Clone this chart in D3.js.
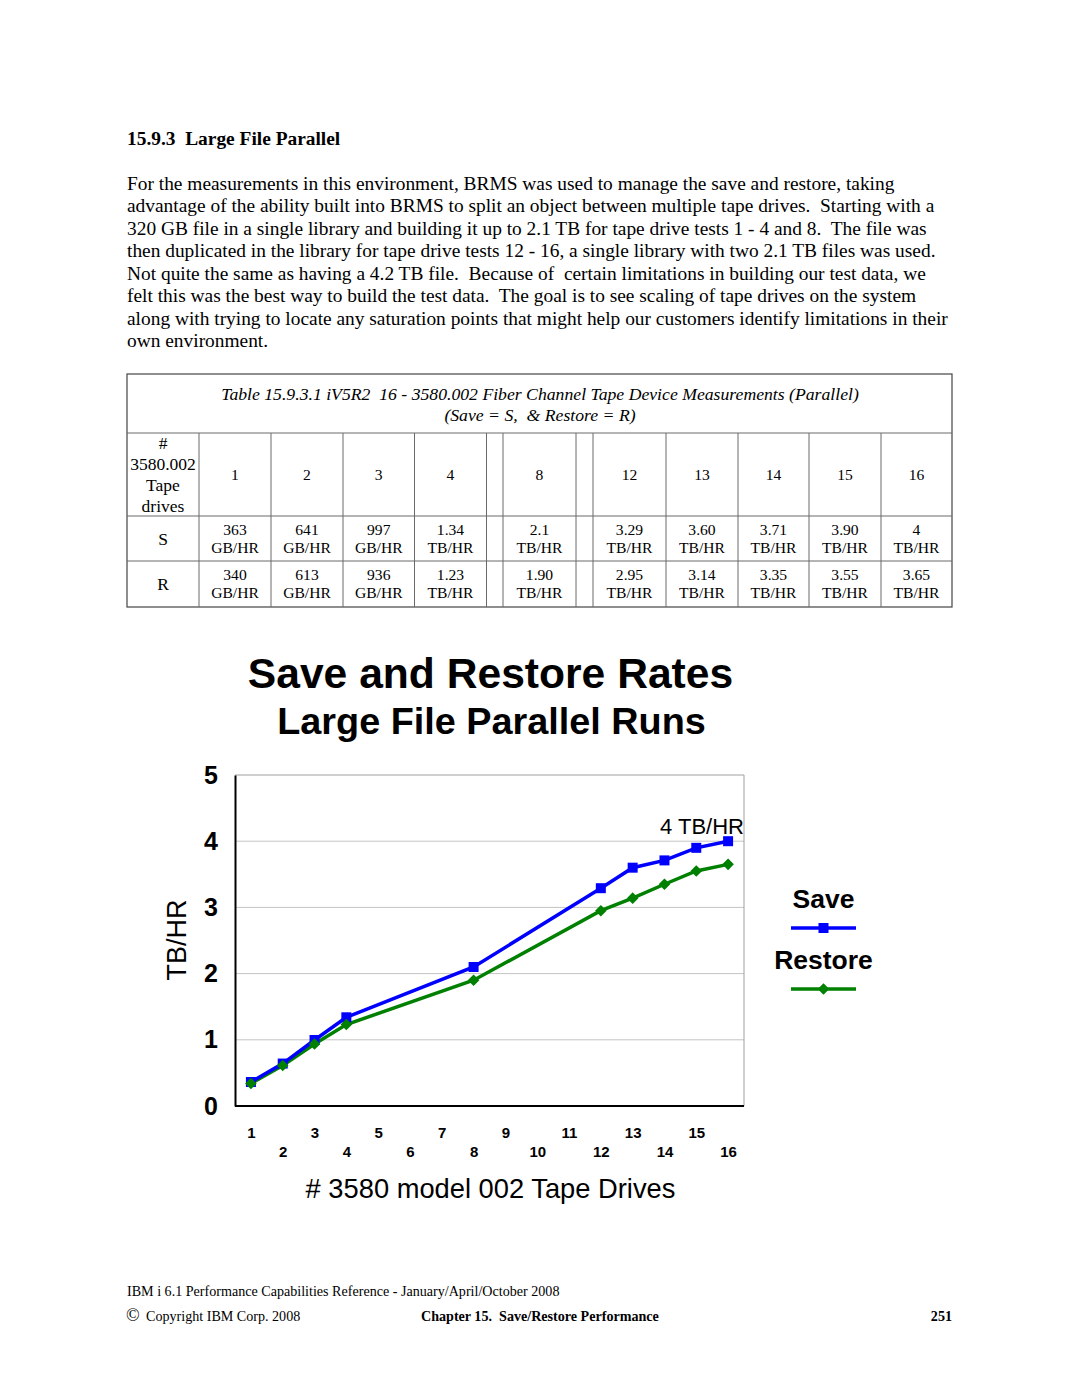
<!DOCTYPE html>
<html>
<head>
<meta charset="utf-8">
<script src="https://cdn.jsdelivr.net/npm/d3@7"></script>
<style>
  html, body { margin: 0; padding: 0; background: #fff; }
  svg { display: block; }
  .serif { font-family: "Liberation Serif", "Times New Roman", serif; }
  .sans { font-family: "Liberation Sans", Arial, sans-serif; }
</style>
</head>
<body>
<svg id="page" width="1080" height="1397"></svg>
<script>
// ---------- DATA ----------
const headingText = "15.9.3  Large File Parallel";
const paragraphLines = [
  "For the measurements in this environment, BRMS was used to manage the save and restore, taking",
  "advantage of the ability built into BRMS to split an object between multiple tape drives.  Starting with a",
  "320 GB file in a single library and building it up to 2.1 TB for tape drive tests 1 - 4 and 8.  The file was",
  "then duplicated in the library for tape drive tests 12 - 16, a single library with two 2.1 TB files was used.",
  "Not quite the same as having a 4.2 TB file.  Because of  certain limitations in building our test data, we",
  "felt this was the best way to build the test data.  The goal is to see scaling of tape drives on the system",
  "along with trying to locate any saturation points that might help our customers identify limitations in their",
  "own environment."
];
const tableCaption = ["Table 15.9.3.1 iV5R2  16 - 3580.002 Fiber Channel Tape Device Measurements (Parallel)",
                      "(Save = S,  & Restore = R)"];
const tableRowHeader = ["#", "3580.002", "Tape", "drives"];
const tableDrives = ["1", "2", "3", "4", "", "8", "", "12", "13", "14", "15", "16"];
const tableSaveValues = ["363", "641", "997", "1.34", "", "2.1", "", "3.29", "3.60", "3.71", "3.90", "4"];
const tableSaveUnits = ["GB/HR", "GB/HR", "GB/HR", "TB/HR", "", "TB/HR", "", "TB/HR", "TB/HR", "TB/HR", "TB/HR", "TB/HR"];
const tableRestoreValues = ["340", "613", "936", "1.23", "", "1.90", "", "2.95", "3.14", "3.35", "3.55", "3.65"];
const tableRestoreUnits = ["GB/HR", "GB/HR", "GB/HR", "TB/HR", "", "TB/HR", "", "TB/HR", "TB/HR", "TB/HR", "TB/HR", "TB/HR"];

const chartTitle = "Save and Restore Rates";
const chartSubtitle = "Large File Parallel Runs";
const xCategories = [1, 2, 3, 4, 5, 6, 7, 8, 9, 10, 11, 12, 13, 14, 15, 16];
const yTicks = [0, 1, 2, 3, 4, 5];
const drives = [1, 2, 3, 4, 8, 12, 13, 14, 15, 16];
const saveRates = [0.363, 0.641, 0.997, 1.34, 2.1, 3.29, 3.60, 3.71, 3.90, 4.0];
const restoreRates = [0.34, 0.613, 0.936, 1.23, 1.90, 2.95, 3.14, 3.35, 3.55, 3.65];
const seriesNames = ["Save", "Restore"];
const annotationText = "4 TB/HR";
const xAxisTitle = "# 3580 model 002 Tape Drives";
const yAxisTitle = "TB/HR";

const footerLine1 = "IBM i 6.1 Performance Capabilities Reference - January/April/October 2008";
const footerCopyright = "Copyright IBM Corp. 2008";
const footerChapter = "Chapter 15.  Save/Restore Performance";
const footerPage = "251";

// ---------- PAGE ----------
const svg = d3.select("#page");

svg.append("text").attr("class", "serif")
  .attr("x", 127).attr("y", 145)
  .attr("font-size", 19.4).attr("font-weight", "bold")
  .style("white-space", "pre")
  .text(headingText);

svg.append("g").selectAll("text").data(paragraphLines).join("text")
  .attr("class", "serif")
  .attr("x", 127).attr("y", (d, i) => 190 + i * 22.45)
  .attr("font-size", 19.4)
  .style("white-space", "pre")
  .text(d => d);

// ---------- TABLE ----------
const colEdges = [127, 199, 271, 343, 414.5, 486.5, 503, 576, 593, 666, 738, 809, 881, 952];
const rowEdges = [374, 433, 516, 561, 607];
const tbl = svg.append("g");
const lineColor = "#6a6a6a";
tbl.append("rect").attr("x", 127).attr("y", 374).attr("width", 952 - 127).attr("height", 607 - 374)
  .attr("fill", "none").attr("stroke", "#444").attr("stroke-width", 1.2);
rowEdges.slice(1, -1).forEach(y => {
  tbl.append("line").attr("x1", 127).attr("x2", 952).attr("y1", y).attr("y2", y)
    .attr("stroke", lineColor).attr("stroke-width", 1);
});
colEdges.slice(1, -1).forEach(x => {
  tbl.append("line").attr("x1", x).attr("x2", x).attr("y1", 433).attr("y2", 607)
    .attr("stroke", lineColor).attr("stroke-width", 1);
});
tbl.selectAll("text.cap").data(tableCaption).join("text")
  .attr("class", "serif cap")
  .attr("x", 540).attr("y", (d, i) => 399.5 + i * 21)
  .attr("text-anchor", "middle").attr("font-size", 17.7).attr("font-style", "italic")
  .style("white-space", "pre")
  .text(d => d);
tbl.selectAll("text.rh").data(tableRowHeader).join("text")
  .attr("class", "serif rh")
  .attr("x", 163).attr("y", (d, i) => 449 + i * 21)
  .attr("text-anchor", "middle").attr("font-size", 17.5)
  .text(d => d);
tbl.append("text").attr("class", "serif").attr("x", 163).attr("y", 544.5)
  .attr("text-anchor", "middle").attr("font-size", 17.5).text("S");
tbl.append("text").attr("class", "serif").attr("x", 163).attr("y", 590)
  .attr("text-anchor", "middle").attr("font-size", 17.5).text("R");
const colCenters = tableDrives.map((d, i) => (colEdges[i + 1] + colEdges[i + 2]) / 2);
function cellTexts(arr, y) {
  tbl.append("g").selectAll("text").data(arr).join("text")
    .attr("class", "serif")
    .attr("x", (d, i) => colCenters[i]).attr("y", y)
    .attr("text-anchor", "middle").attr("font-size", 15.6)
    .text(d => d);
}
cellTexts(tableDrives, 480);
cellTexts(tableSaveValues, 535);
cellTexts(tableSaveUnits, 553);
cellTexts(tableRestoreValues, 580);
cellTexts(tableRestoreUnits, 598);

// ---------- CHART ----------
const plot = { left: 235, right: 744, top: 775, bottom: 1106 };
const x = d3.scalePoint().domain(xCategories).range([plot.left, plot.right]).padding(0.5);
const y = d3.scaleLinear().domain([0, 5]).range([plot.bottom, plot.top]);
const chart = svg.append("g").attr("class", "sans");

chart.append("text").attr("x", 490.5).attr("y", 688)
  .attr("text-anchor", "middle").attr("font-size", 42.6).attr("font-weight", "bold")
  .text(chartTitle);
chart.append("text").attr("x", 491.5).attr("y", 733.5)
  .attr("text-anchor", "middle").attr("font-size", 37.8).attr("font-weight", "bold")
  .text(chartSubtitle);

// gridlines
chart.append("g").selectAll("line").data(yTicks.filter(t => t > 0 && t < 5)).join("line")
  .attr("x1", plot.left).attr("x2", plot.right)
  .attr("y1", d => y(d)).attr("y2", d => y(d))
  .attr("stroke", "#c4c4c4").attr("stroke-width", 1);
// top/right frame gray
chart.append("line").attr("x1", plot.left).attr("x2", plot.right).attr("y1", y(5)).attr("y2", y(5))
  .attr("stroke", "#a0a0a0").attr("stroke-width", 1);
chart.append("line").attr("x1", plot.right).attr("x2", plot.right).attr("y1", plot.top).attr("y2", plot.bottom)
  .attr("stroke", "#a0a0a0").attr("stroke-width", 1);

// y axis
const yAxis = chart.append("g").attr("transform", `translate(${plot.left},0)`)
  .call(d3.axisLeft(y).tickValues(yTicks).tickSize(0).tickPadding(18).tickFormat(d3.format("d")));
yAxis.select(".domain").attr("stroke", "#000").attr("stroke-width", 2);
yAxis.selectAll("text").attr("font-family", "Liberation Sans, Arial, sans-serif")
  .attr("font-size", 25).attr("font-weight", "bold").attr("fill", "#000")
  .attr("text-anchor", "middle").attr("x", 211 - plot.left);

// x axis
const xAxis = chart.append("g").attr("transform", `translate(0,${plot.bottom})`)
  .call(d3.axisBottom(x).tickSize(0).tickPadding(0));
xAxis.select(".domain").attr("stroke", "#000").attr("stroke-width", 2)
  .attr("d", `M${plot.left},0H${plot.right}`);
xAxis.selectAll("text").attr("font-family", "Liberation Sans, Arial, sans-serif")
  .attr("font-size", 15).attr("font-weight", "bold").attr("fill", "#000")
  .attr("dy", null)
  .attr("y", d => (d % 2 === 1 ? 1138 : 1157) - plot.bottom);

// axis titles
chart.append("text").attr("transform", "translate(186,940) rotate(-90)")
  .attr("text-anchor", "middle").attr("font-size", 27).text(yAxisTitle);
chart.append("text").attr("x", 490.5).attr("y", 1197.5)
  .attr("text-anchor", "middle").attr("font-size", 27.3).text(xAxisTitle);

// series
const saveColor = "#0000ff", restoreColor = "#008000";
const line = d3.line().x(d => x(d[0])).y(d => y(d[1]));
const saveData = drives.map((d, i) => [d, saveRates[i]]);
const restoreData = drives.map((d, i) => [d, restoreRates[i]]);

chart.append("path").datum(restoreData).attr("d", line)
  .attr("fill", "none").attr("stroke", restoreColor).attr("stroke-width", 3.5);
chart.append("path").datum(saveData).attr("d", line)
  .attr("fill", "none").attr("stroke", saveColor).attr("stroke-width", 3.5);

const sqSym = d3.symbol().type(d3.symbolSquare).size(100);
const diaSym = d3.symbol().type(d3.symbolDiamond2).size(85);
chart.append("g").selectAll("path").data(saveData).join("path")
  .attr("transform", d => `translate(${x(d[0])},${y(d[1])})`)
  .attr("d", sqSym).attr("fill", saveColor);
chart.append("g").selectAll("path").data(restoreData).join("path")
  .attr("transform", d => `translate(${x(d[0])},${y(d[1])})`)
  .attr("d", diaSym).attr("fill", restoreColor);

// annotation
chart.append("text").attr("x", plot.right).attr("y", 834)
  .attr("text-anchor", "end").attr("font-size", 22).text(annotationText);

// legend
const legend = chart.append("g");
const legendItems = [
  { name: seriesNames[0], color: saveColor, sym: sqSym, ty: 907.5, ly: 928 },
  { name: seriesNames[1], color: restoreColor, sym: diaSym, ty: 968.5, ly: 989 }
];
legendItems.forEach(it => {
  legend.append("text").attr("x", 823.5).attr("y", it.ty).attr("text-anchor", "middle")
    .attr("font-size", 26.5).attr("font-weight", "bold").text(it.name);
  legend.append("line").attr("x1", 791).attr("x2", 856).attr("y1", it.ly).attr("y2", it.ly)
    .attr("stroke", it.color).attr("stroke-width", 3.5);
  legend.append("path").attr("transform", `translate(823.5,${it.ly})`).attr("d", it.sym).attr("fill", it.color);
});

// ---------- FOOTER ----------
svg.append("text").attr("class", "serif").attr("x", 127).attr("y", 1295.5)
  .attr("font-size", 14.1).text(footerLine1);
svg.append("text").attr("class", "serif").attr("x", 126).attr("y", 1321)
  .attr("font-size", 18).text("\u00A9");
svg.append("text").attr("class", "serif").attr("x", 146).attr("y", 1320.5)
  .attr("font-size", 14.1).text(footerCopyright);
svg.append("text").attr("class", "serif").attr("x", 421).attr("y", 1320.5)
  .attr("font-size", 14.1).attr("font-weight", "bold").style("white-space", "pre").text(footerChapter);
svg.append("text").attr("class", "serif").attr("x", 952).attr("y", 1320.5)
  .attr("font-size", 14.1).attr("font-weight", "bold").attr("text-anchor", "end").text(footerPage);
</script>
</body>
</html>
